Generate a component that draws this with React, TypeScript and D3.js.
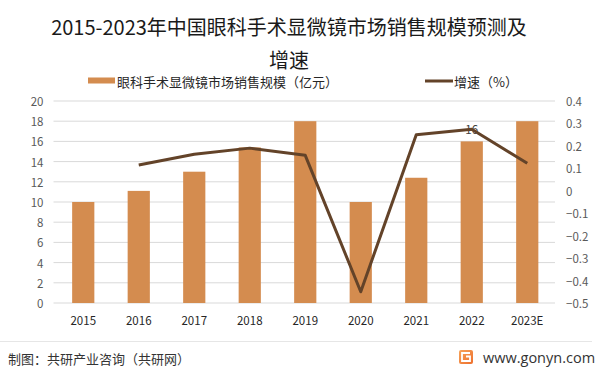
import React from "react";
import * as d3 from "d3";

const categories = ["2015", "2016", "2017", "2018", "2019", "2020", "2021", "2022", "2023E"];
const salesValues = [10, 11.1, 13, 15.4, 18, 10, 12.4, 16, 18];
const growthValues: (number | null)[] = [null, 0.115, 0.163, 0.19, 0.158, -0.45, 0.25, 0.274, 0.123];
const leftTicks = [0, 2, 4, 6, 8, 10, 12, 14, 16, 18, 20];
const rightTicks = [-0.5, -0.4, -0.3, -0.2, -0.1, 0, 0.1, 0.2, 0.3, 0.4];
const titleLines = ["2015-2023年中国眼科手术显微镜市场销售规模预测及", "增速"];
const legendBar = "眼科手术显微镜市场销售规模（亿元）";
const legendLine = "增速（%）";
const dataLabel = { index: 7, text: "16" };
const footerLeft = "制图：共研产业咨询（共研网）";
const footerRight = "www.gonyn.com";

const W = 601;
const H = 375;
const plot = { left: 55.5, right: 555, top: 101, bottom: 303 };
const BAR = "#D48C4F";
const LINE = "#634329";
const FONT = "'Noto Sans CJK SC', 'Noto Sans', sans-serif";

export default function App() {
  const x = d3.scaleBand<string>().domain(categories).range([plot.left, plot.right]).paddingInner(0.6).paddingOuter(0.3);
  const yL = d3.scaleLinear().domain([0, 20]).range([plot.bottom, plot.top]);
  const yR = d3.scaleLinear().domain([-0.5, 0.4]).range([plot.bottom, plot.top]);
  const cx = (c: string) => (x(c) as number) + x.bandwidth() / 2;

  const linePts = categories
    .map((c, i) => ({ c, v: growthValues[i] }))
    .filter((d) => d.v !== null) as { c: string; v: number }[];
  const lineGen = d3
    .line<{ c: string; v: number }>()
    .x((d) => cx(d.c))
    .y((d) => yR(d.v));

  const fmtR = (v: number) => (Math.abs(v) < 1e-9 ? "0" : d3.format(".1f")(v));

  return (
    <div style={{ position: "absolute", left: 0, top: 0, width: W, height: H, background: "#fff" }}>
      <svg width={W} height={H} style={{ display: "block", fontFamily: FONT }}>
        <rect x={0} y={0} width={W} height={H} fill="#fff" />
        {/* title */}
        {titleLines.map((t, i) => (
          <text key={i} x={289} y={26 + i * 33} textAnchor="middle" dominantBaseline="central" fontSize={20} fill="#1a1a1a">
            {t}
          </text>
        ))}
        {/* legend */}
        <rect x={88} y={77.5} width={27} height={6} fill={BAR} />
        <text x={117} y={81} dominantBaseline="central" fontSize={13} fill="#262626">
          {legendBar}
        </text>
        <line x1={425} x2={453} y1={81} y2={81} stroke={LINE} strokeWidth={3} />
        <text x={454} y={81} dominantBaseline="central" fontSize={13} fill="#262626">
          {legendLine}
        </text>
        {/* gridlines */}
        {leftTicks.map((t) => (
          <line key={t} x1={plot.left - 2} x2={plot.right} y1={yL(t)} y2={yL(t)} stroke="#d9d9d9" strokeWidth={1} />
        ))}
        {/* left axis labels */}
        {leftTicks.map((t) => (
          <text key={"l" + t} x={43.5} y={yL(t)} textAnchor="end" dominantBaseline="central" fontSize={11.5} fill="#595959">
            {t}
          </text>
        ))}
        {/* right axis labels */}
        {rightTicks.map((t) => (
          <text key={"r" + t} x={566} y={yR(t)} textAnchor="start" dominantBaseline="central" fontSize={11.5} fill="#595959">
            {fmtR(t)}
          </text>
        ))}
        {/* bars */}
        {categories.map((c, i) => (
          <rect key={c} x={x(c)} y={yL(salesValues[i])} width={x.bandwidth()} height={yL(0) - yL(salesValues[i])} fill={BAR} />
        ))}
        {/* x labels */}
        {categories.map((c) => (
          <text key={"x" + c} x={cx(c)} y={320} textAnchor="middle" dominantBaseline="central" fontSize={11.5} fill="#262626">
            {c}
          </text>
        ))}
        {/* data label */}
        <text x={cx(categories[dataLabel.index])} y={129} textAnchor="middle" dominantBaseline="central" fontSize={11.5} fill="#404040">
          {dataLabel.text}
        </text>
        {/* line */}
        <path d={lineGen(linePts) || ""} fill="none" stroke={LINE} strokeWidth={3} strokeLinejoin="round" />
        {/* footer */}
        <line x1={0} x2={592} y1={341.5} y2={341.5} stroke="#e6e6e6" strokeWidth={1} />
        <text x={8} y={358} dominantBaseline="central" fontSize={13} fill="#333">
          {footerLeft}
        </text>
        <defs>
          <linearGradient id="logoG" x1="0" y1="0" x2="1" y2="1">
            <stop offset="0" stopColor="#f6a35a" />
            <stop offset="1" stopColor="#ee6f2d" />
          </linearGradient>
        </defs>
        <rect x={459} y={350} width={14} height={14} rx={2} fill="url(#logoG)" />
        <path d="M470 353 H462 V361 H470 V356.5 H466" fill="none" stroke="#fff" strokeWidth={1.8} />
        <text x={483} y={357} dominantBaseline="central" fontSize={14.5} fill="#333" fontFamily="'Open Sans', 'Noto Sans', sans-serif">
          {footerRight}
        </text>
      </svg>
    </div>
  );
}
